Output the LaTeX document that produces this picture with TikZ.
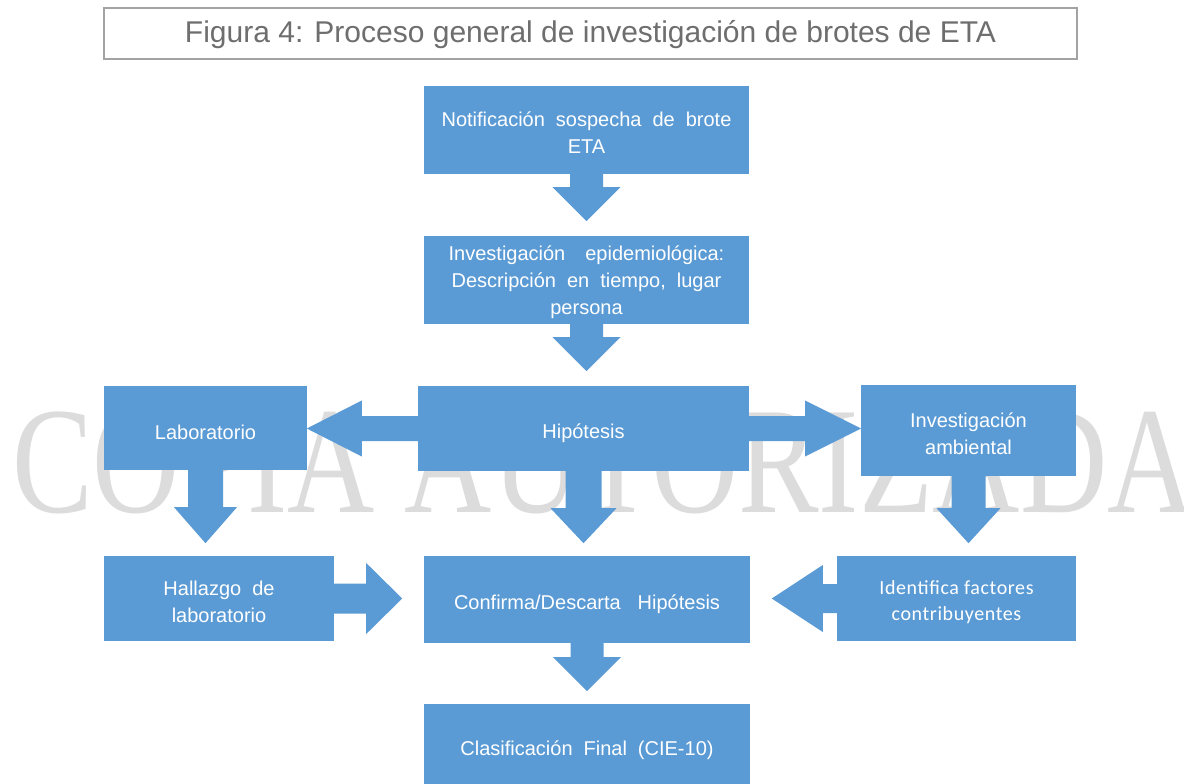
\documentclass[tikz,border=0pt]{standalone}
\usepackage{fontspec}
\setmainfont{Liberation Sans}
\newfontfamily\wmfont{Liberation Serif}
\newfontfamily\calfont{Carlito}[LetterSpace=3.0]
\definecolor{boxblue}{HTML}{5B9BD5}
\definecolor{titletext}{HTML}{6E6E6E}
\definecolor{titleframe}{HTML}{A3A3A3}
\definecolor{wmgray}{HTML}{DCDCDC}
\newcommand{\boxfont}{\fontsize{20}{27}\selectfont\spaceskip=11pt\relax}
\tikzset{
  bxs/.style={fill=boxblue, inner sep=0pt},
  bxt/.style={text=white, inner sep=0pt, align=center, font=\boxfont},
  barrow/.style={fill=boxblue}
}
% block arrows: start anchor, shaft length, head length, shaft half-width, head half-width
\newcommand{\arrowD}[5]{\fill[barrow] (#1) ++(-#4,0) -- ++(0,#2) -- ++({#4-#5},0) -- ++(#5,#3) -- ++(#5,-#3) -- ++({#4-#5},0) -- ++(0,-#2) -- cycle;}
\newcommand{\arrowR}[5]{\fill[barrow] (#1) ++(0,-#4) -- ++(#2,0) -- ++(0,{#4-#5}) -- ++(#3,#5) -- ++(-#3,#5) -- ++(0,{#4-#5}) -- ++(-#2,0) -- cycle;}
\newcommand{\arrowL}[5]{\fill[barrow] (#1) ++(0,-#4) -- ++(-#2,0) -- ++(0,{#4-#5}) -- ++(-#3,#5) -- ++(#3,#5) -- ++(0,{#4-#5}) -- ++(#2,0) -- cycle;}
\begin{document}
\begin{tikzpicture}[x=1pt,y=-1pt]
\clip (0,0) rectangle (1184,784);
\fill[white] (0,0) rectangle (1184,784);
% watermark
\node[anchor=base west, inner sep=0pt, text=wmgray, font=\wmfont\fontsize{152}{152}\selectfont] (wm) at (12,512) {\scalebox{0.795}[1]{COPIA AUTORIZADA}};
% title
\node[draw=titleframe, line width=1.3pt, minimum width=973pt, minimum height=51pt, inner sep=0pt] (title) at (590.5,33.5) {};
\node[inner sep=0pt, text=titletext, font=\fontsize{30}{36}\selectfont] (titlet) at ([yshift=-1pt]title.center) {Figura 4: Proceso general de investigación de brotes de ETA};
% boxes
\node[bxs, minimum width=325pt, minimum height=88pt] (n1) at (586.5,130) {};
\node[bxs, minimum width=325pt, minimum height=88pt] (n2) at (586.5,280) {};
\node[bxs, minimum width=331pt, minimum height=85pt] (hip) at (583.5,428.5) {};
\node[bxs, minimum width=203pt, minimum height=84pt] (lab) at (205.5,428) {};
\node[bxs, minimum width=215pt, minimum height=91pt] (amb) at (968.5,430.5) {};
\node[bxs, minimum width=230pt, minimum height=85pt] (hall) at (219,598.5) {};
\node[bxs, minimum width=326pt, minimum height=87pt] (conf) at (587,599.5) {};
\node[bxs, minimum width=239pt, minimum height=85pt] (iden) at (956.5,598.5) {};
\node[bxs, minimum width=326pt, minimum height=88pt] (clas) at (587,748) {};
% box texts
\node[bxt] (n1t) at ([yshift=-2.5pt]n1.center) {Notificación sospecha de brote\\ETA};
\node[bxt] (n2t) at ([yshift=-2.5pt]n2.center) {Investigación\hspace{9pt} epidemiológica:\\Descripción en tiempo, lugar\\persona};
\node[bxt] (hipt) at ([yshift=-5pt]hip.center) {Hipótesis};
\node[bxt] (labt) at ([yshift=-4pt]lab.center) {Laboratorio};
\node[bxt] (ambt) at ([yshift=-3.5pt]amb.center) {Investigación\\ambiental};
\node[bxt] (hallt) at ([yshift=-3.5pt]hall.center) {Hallazgo de\\laboratorio};
\node[bxt] (conft) at ([yshift=-5pt]conf.center) {Confirma/Descarta\hspace{6pt} Hipótesis};
\node[bxt, font=\calfont\fontsize{20}{26}\selectfont] (ident) at ([yshift=-4pt]iden.center) {Identifica factores\\contribuyentes};
\node[bxt] (clast) at ([yshift=-2pt]clas.center) {Clasificación Final (CIE-10)};
% connectors (block arrows)
\arrowD{n1.south}{13}{34}{16.5}{34}
\arrowD{n2.south}{13}{34}{16.5}{34}
\arrowL{hip.west}{56}{55}{12.5}{28}
\arrowR{hip.east}{56}{56}{12.5}{28}
\arrowD{lab.south}{37}{36}{17.5}{31.5}
\arrowD{hip.south}{37}{35}{18}{33}
\arrowD{amb.south}{32}{35}{17}{32}
\arrowR{hall.east}{32}{36}{15}{35.5}
\arrowL{iden.west}{14}{51}{14.5}{33.5}
\arrowD{conf.south}{14}{34}{16.5}{34}
\end{tikzpicture}
\end{document}
